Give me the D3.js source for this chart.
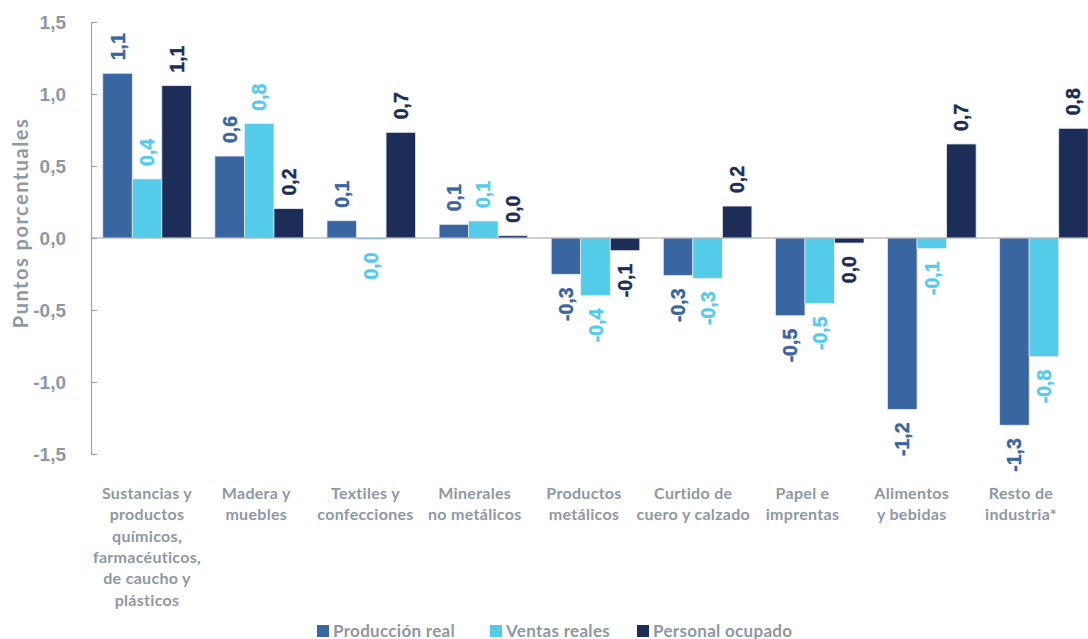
<!DOCTYPE html>
<html>
<head>
<meta charset="utf-8">
<script src="https://cdn.jsdelivr.net/npm/d3@7"></script>
<style>
  body { margin: 0; background: #fff; }
  svg { display: block; }
</style>
</head>
<body>
<svg id="chart"></svg>
<script>
// categories and their wrapped axis labels
const categories = ["Sustancias", "Madera", "Textiles", "Minerales", "Productos", "Curtido", "Papel", "Alimentos", "Resto"];
const categoryLines = [
  ["Sustancias y", "productos", "químicos,", "farmacéuticos,", "de caucho y", "plásticos"],
  ["Madera y", "muebles"],
  ["Textiles y", "confecciones"],
  ["Minerales", "no metálicos"],
  ["Productos", "metálicos"],
  ["Curtido de", "cuero y calzado"],
  ["Papel e", "imprentas"],
  ["Alimentos", "y bebidas"],
  ["Resto de", "industria*"]
];
const seriesNames = ["Producción real", "Ventas reales", "Personal ocupado"];
const produccion = [1.144, 0.569, 0.12, 0.095, -0.252, -0.26, -0.54, -1.19, -1.30];
const ventas     = [0.41, 0.794, -0.01, 0.118, -0.40, -0.28, -0.454, -0.072, -0.824];
const personal   = [1.058, 0.204, 0.734, 0.016, -0.088, 0.222, -0.035, 0.653, 0.762];
const yTicks = [-1.5, -1.0, -0.5, 0.0, 0.5, 1.0, 1.5];

const colors = ["#3965a0", "#55cbea", "#1c2d57"];
const grey = "#8e98a2";
const width = 1088, height = 639;

const locale = d3.formatLocale({decimal: ",", thousands: ".", grouping: [3], currency: ["", ""], minus: "-"});
const fmt = v => {
  let s = locale.format(".1f")(v);
  return s === "-0,0" ? "0,0" : s;
};

const svg = d3.select("#chart").attr("width", width).attr("height", height);

// scales
const x0 = d3.scaleBand().domain(categories).range([91, 1100]).paddingInner(0.21).paddingOuter(0.105);
const x1 = d3.scaleBand().domain(seriesNames).range([0, x0.bandwidth()]);
const xLabel = d3.scalePoint().domain(categories).range([147, 1021]);
const y = d3.scaleLinear().domain([-1.5, 1.5]).range([454, 22]);

// y axis, ticks pointing inward
const yAxis = d3.axisLeft(y).tickValues(yTicks).tickSize(-6).tickPadding(25).tickFormat(fmt);
const gy = svg.append("g").attr("transform", "translate(91,0)").call(yAxis);
gy.selectAll("path, line").attr("stroke", "#9aa2ab").attr("stroke-width", 1.2);
gy.selectAll("text")
  .attr("fill", grey)
  .attr("font-family", "'Liberation Sans', Arial, sans-serif")
  .attr("font-weight", "bold")
  .attr("font-size", 19);

// y title
svg.append("text")
  .attr("transform", "translate(20,223) rotate(-90)")
  .attr("text-anchor", "middle")
  .attr("dominant-baseline", "central")
  .attr("fill", grey)
  .attr("font-family", "Lato, sans-serif")
  .attr("font-weight", "bold")
  .attr("font-size", 20)
  .attr("letter-spacing", 1.5)
  .text("Puntos porcentuales");

// bars
const data = categories.map((c, i) => ({
  cat: c,
  values: [produccion[i], ventas[i], personal[i]].map((v, j) => ({series: seriesNames[j], idx: j, v: v}))
}));

const groups = svg.append("g").selectAll("g")
  .data(data)
  .enter().append("g")
  .attr("transform", d => "translate(" + x0(d.cat) + ",0)");

groups.selectAll("rect")
  .data(d => d.values)
  .enter().append("rect")
  .attr("x", d => x1(d.series))
  .attr("y", d => y(Math.max(0, d.v)))
  .attr("width", x1.bandwidth())
  .attr("height", d => Math.abs(y(d.v) - y(0)))
  .attr("fill", d => colors[d.idx])
  .attr("stroke", "#e3e8ee")
  .attr("stroke-width", 0.8);

// zero line
svg.append("line")
  .attr("x1", 91).attr("x2", width)
  .attr("y1", y(0)).attr("y2", y(0))
  .attr("stroke", "#9aa2ab").attr("stroke-width", 1.2);

// value labels (rotated)
groups.selectAll("text")
  .data(d => d.values)
  .enter().append("text")
  .attr("transform", d => {
    const cx = x1(d.series) + x1.bandwidth() / 2;
    const cy = d.v >= 0 ? y(d.v) - 13 : y(d.v) + 13;
    return "translate(" + cx + "," + cy + ") rotate(-90)";
  })
  .attr("text-anchor", d => d.v >= 0 ? "start" : "end")
  .attr("dominant-baseline", "central")
  .attr("fill", d => colors[d.idx])
  .attr("font-family", "'Liberation Sans', Arial, sans-serif")
  .attr("font-weight", "bold")
  .attr("font-size", 19.5)
  .attr("stroke", d => colors[d.idx])
  .attr("stroke-width", 0.4)
  .text(d => fmt(d.v));

// category labels
const catText = svg.append("g").selectAll("text")
  .data(categories)
  .enter().append("text")
  .attr("x", d => xLabel(d))
  .attr("y", 499)
  .attr("text-anchor", "middle")
  .attr("fill", grey)
  .attr("font-family", "Lato, sans-serif")
  .attr("font-weight", "bold")
  .attr("font-size", 16)
  .attr("letter-spacing", 0.3);
catText.selectAll("tspan")
  .data((d, i) => categoryLines[i])
  .enter().append("tspan")
  .attr("x", function() { return d3.select(this.parentNode).attr("x"); })
  .attr("dy", (d, i) => i === 0 ? 0 : 21.3)
  .text(d => d);

// legend
const legendX = [317, 490, 637];
const legend = svg.append("g").selectAll("g")
  .data(seriesNames)
  .enter().append("g")
  .attr("transform", (d, i) => "translate(" + legendX[i] + ",625)");
legend.append("rect")
  .attr("width", 12).attr("height", 12)
  .attr("fill", (d, i) => colors[i]);
legend.append("text")
  .attr("x", 16).attr("y", 12)
  .attr("fill", grey)
  .attr("font-family", "Lato, sans-serif")
  .attr("font-weight", "bold")
  .attr("font-size", 17)
  .attr("letter-spacing", 0.3)
  .text(d => d);
</script>
</body>
</html>
